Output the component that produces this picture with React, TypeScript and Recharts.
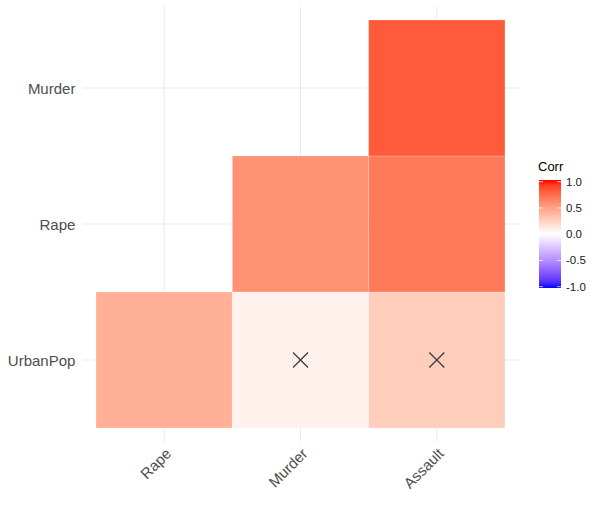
import React from "react";
import {
  ComposedChart,
  XAxis,
  YAxis,
  CartesianGrid,
  ReferenceArea,
  Scatter,
} from "recharts";

const xLabels = ["Rape", "Murder", "Assault"];
const yLabels = ["UrbanPop", "Rape", "Murder"];
const cellX = ["Rape", "Murder", "Assault", "Murder", "Assault", "Assault"];
const cellY = ["UrbanPop", "UrbanPop", "UrbanPop", "Rape", "Rape", "Murder"];
const corrValues = [0.41, 0.07, 0.26, 0.56, 0.67, 0.8];
const insignificant = [false, true, true, false, false, false];
const legendTicks = [1.0, 0.5, 0.0, -0.5, -1.0];
const legendTitle = "Corr";

// ---- colour: blue - white - red gradient interpolated in CIELAB ----
type Lab = [number, number, number];
const srgbToLin = (c: number) => {
  c /= 255;
  return c <= 0.04045 ? c / 12.92 : Math.pow((c + 0.055) / 1.055, 2.4);
};
const linToSrgb = (c: number) => {
  c = Math.max(0, Math.min(1, c));
  const v = c <= 0.0031308 ? 12.92 * c : 1.055 * Math.pow(c, 1 / 2.4) - 0.055;
  return Math.round(v * 255);
};
const Xn = 0.95047, Yn = 1.0, Zn = 1.08883;
const f = (t: number) => (t > 216 / 24389 ? Math.cbrt(t) : (24389 / 27 * t + 16) / 116);
const finv = (t: number) => (t * t * t > 216 / 24389 ? t * t * t : (116 * t - 16) / (24389 / 27));
const rgbToLab = (r: number, g: number, b: number): Lab => {
  const R = srgbToLin(r), G = srgbToLin(g), B = srgbToLin(b);
  const X = 0.4124 * R + 0.3576 * G + 0.1805 * B;
  const Y = 0.2126 * R + 0.7152 * G + 0.0722 * B;
  const Z = 0.0193 * R + 0.1192 * G + 0.9505 * B;
  const fx = f(X / Xn), fy = f(Y / Yn), fz = f(Z / Zn);
  return [116 * fy - 16, 500 * (fx - fy), 200 * (fy - fz)];
};
const labToHex = ([L, a, b]: Lab) => {
  const fy = (L + 16) / 116;
  const fx = fy + a / 500;
  const fz = fy - b / 200;
  const X = Xn * finv(fx), Y = Yn * finv(fy), Z = Zn * finv(fz);
  const R = 3.2406 * X - 1.5372 * Y - 0.4986 * Z;
  const G = -0.9689 * X + 1.8758 * Y + 0.0415 * Z;
  const B = 0.0557 * X - 0.204 * Y + 1.057 * Z;
  const h = (n: number) => linToSrgb(n).toString(16).padStart(2, "0");
  return "#" + h(R) + h(G) + h(B);
};
const LAB_LOW = rgbToLab(0, 0, 255);
const LAB_MID = rgbToLab(255, 255, 255);
const LAB_HIGH = rgbToLab(255, 0, 0);
const corrColor = (v: number) => {
  const from = LAB_MID;
  const to = v >= 0 ? LAB_HIGH : LAB_LOW;
  const t = Math.min(1, Math.abs(v));
  return labToHex([
    from[0] + (to[0] - from[0]) * t,
    from[1] + (to[1] - from[1]) * t,
    from[2] + (to[2] - from[2]) * t,
  ] as Lab);
};

const FONT = '"Liberation Sans", Arial, Helvetica, sans-serif';
const AXIS_TICKS = [1, 2, 3];
const DOMAIN: [number, number] = [0.4, 3.6];

const cells = corrValues.map((v, i) => ({
  x: xLabels.indexOf(cellX[i]) + 1,
  y: yLabels.indexOf(cellY[i]) + 1,
  value: v,
  insig: insignificant[i],
}));
const crossData = cells.filter((c) => c.insig).map((c) => ({ x: c.x, y: c.y }));

const XTick = (props: any) => {
  const { x, y, payload } = props;
  const px = x + 8;
  const py = y + 5;
  return (
    <text
      x={px}
      y={py}
      transform={`rotate(-45, ${px}, ${py})`}
      textAnchor="end"
      fill="#4D4D4D"
      fontSize={15}
      fontFamily={FONT}
    >
      {xLabels[payload.value - 1]}
    </text>
  );
};

const YTick = (props: any) => {
  const { x, y, payload } = props;
  return (
    <text
      x={x}
      y={y}
      textAnchor="end"
      dominantBaseline="central"
      fill="#4D4D4D"
      fontSize={15}
      fontFamily={FONT}
    >
      {yLabels[payload.value - 1]}
    </text>
  );
};

const CrossShape = (props: any) => {
  const { cx, cy } = props;
  const s = 7.5;
  return (
    <g stroke="#3a3a3a" strokeWidth={1.3} strokeLinecap="butt">
      <line x1={cx - s} y1={cy - s} x2={cx + s} y2={cy + s} />
      <line x1={cx - s} y1={cy + s} x2={cx + s} y2={cy - s} />
    </g>
  );
};

const ColorBarLegend = () => {
  const barX = 7, barW = 22, barTop = 28, barBot = 136;
  const labTop = 29.7, labBot = 134.7;
  const stops = [];
  for (let i = 0; i <= 20; i++) {
    const v = 1 - (2 * i) / 20;
    stops.push(<stop key={i} offset={`${(i / 20) * 100}%`} stopColor={corrColor(v)} />);
  }
  const yFor = (v: number) => labTop + ((1 - v) / 2) * (labBot - labTop);
  return (
    <svg width={80} height={150} style={{ display: "block", overflow: "visible" }}>
      <defs>
        <linearGradient id="corrGrad" x1="0" y1="0" x2="0" y2="1">
          {stops}
        </linearGradient>
      </defs>
      <text x={6} y={19} fontSize={13} fill="#000" fontFamily={FONT}>
        {legendTitle}
      </text>
      <rect x={barX} y={barTop} width={barW} height={barBot - barTop} fill="url(#corrGrad)" />
      {legendTicks.map((t) => (
        <g key={t}>
          <line x1={barX} x2={barX + 4} y1={yFor(t)} y2={yFor(t)} stroke="#fff" strokeOpacity={0.7} />
          <line x1={barX + barW - 4} x2={barX + barW} y1={yFor(t)} y2={yFor(t)} stroke="#fff" strokeOpacity={0.7} />
          <text
            x={34}
            y={yFor(t)}
            dominantBaseline="central"
            fontSize={11.5}
            fill="#1a1a1a"
            fontFamily={FONT}
          >
            {t.toFixed(1)}
          </text>
        </g>
      ))}
    </svg>
  );
};

const gridX = (p: any) => {
  const off = p.offset;
  return AXIS_TICKS.map((v) => off.left + ((v - DOMAIN[0]) / (DOMAIN[1] - DOMAIN[0])) * off.width);
};
const gridY = (p: any) => {
  const off = p.offset;
  return AXIS_TICKS.map((v) => off.top + ((DOMAIN[1] - v) / (DOMAIN[1] - DOMAIN[0])) * off.height);
};

export default function App() {
  return (
    <div style={{ position: "absolute", left: 0, top: 0, width: 614, height: 520, background: "#fff" }}>
      <ComposedChart
        width={614}
        height={520}
        margin={{ top: 6.4, right: 95.4, bottom: 0, left: 0 }}
        data={crossData}
      >
        <CartesianGrid
          stroke="#EBEBEB"
          strokeWidth={1}
          verticalCoordinatesGenerator={gridX}
          horizontalCoordinatesGenerator={gridY}
        />
        <XAxis
          dataKey="x"
          type="number"
          domain={DOMAIN}
          ticks={AXIS_TICKS}
          height={78.4}
          axisLine={false}
          tickLine={false}
          tickSize={0}
          tickMargin={8}
          tick={<XTick />}
          interval={0}
          allowDataOverflow
        />
        <YAxis
          dataKey="y"
          type="number"
          domain={DOMAIN}
          ticks={AXIS_TICKS}
          width={82.4}
          axisLine={false}
          tickLine={false}
          tickSize={0}
          tickMargin={7}
          tick={<YTick />}
          interval={0}
          allowDataOverflow
        />
        {cells.map((c, i) => (
          <ReferenceArea
            key={i}
            x1={c.x - 0.5}
            x2={c.x + 0.5}
            y1={c.y - 0.5}
            y2={c.y + 0.5}
            fill={corrColor(c.value)}
            fillOpacity={1}
            stroke="#ffffff"
            strokeOpacity={0.2}
            strokeWidth={1}
            ifOverflow="visible"
          />
        ))}
        <Scatter
          data={crossData}
          dataKey="y"
          shape={<CrossShape />}
          isAnimationActive={false}
          legendType="none"
        />
      </ComposedChart>
      <div style={{ position: "absolute", left: 532, top: 152 }}>
        <ColorBarLegend />
      </div>
    </div>
  );
}
